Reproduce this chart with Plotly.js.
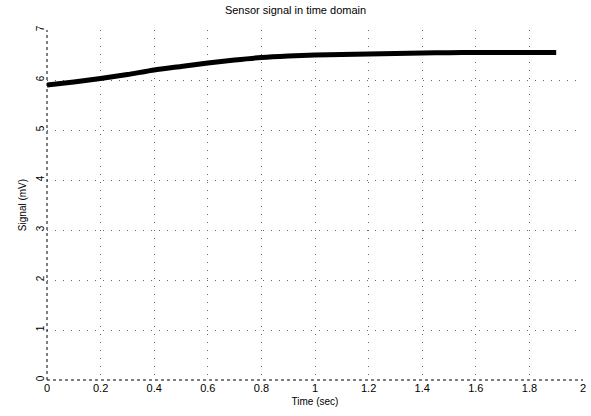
<!DOCTYPE html>
<html>
<head>
<meta charset="utf-8">
<script src="https://cdn.plot.ly/plotly-3.0.1.min.js"></script>
<style>html,body{margin:0;padding:0;background:#fff;}#chart{width:591px;height:416px;}</style>
</head>
<body>
<div id="chart"></div>
<script>
// Data
const timeSec = [0, 0.1, 0.2, 0.3, 0.4, 0.5, 0.6, 0.7, 0.8, 0.9, 1.0, 1.1, 1.2, 1.3, 1.4, 1.5, 1.6, 1.7, 1.8, 1.9];
const signalMv = [5.90, 5.96, 6.03, 6.11, 6.20, 6.27, 6.34, 6.40, 6.45, 6.48, 6.50, 6.51, 6.52, 6.53, 6.54, 6.545, 6.55, 6.55, 6.55, 6.55];
const xTicks = [0, 0.2, 0.4, 0.6, 0.8, 1, 1.2, 1.4, 1.6, 1.8, 2];
const yTicks = [0, 1, 2, 3, 4, 5, 6, 7];

const fontFam = 'Liberation Sans, Arial, sans-serif';
Plotly.newPlot('chart', [{
  x: timeSec, y: signalMv, type: 'scatter', mode: 'lines',
  line: {color: '#000', width: 5, shape: 'spline', smoothing: 0.6}, showlegend: false, hoverinfo: 'skip'
}], {
  width: 591, height: 416,
  margin: {l: 47, r: 8, t: 30, b: 36},
  paper_bgcolor: '#fff', plot_bgcolor: '#fff',
  font: {family: fontFam, size: 10, color: '#000'},
  title: {text: 'Sensor signal in time domain', x: 0.5, xanchor: 'center', y: 0.985, yanchor: 'top', font: {size: 11, family: fontFam, color: '#000'}},
  xaxis: {
    range: [0, 2], tickvals: xTicks, ticktext: xTicks.map(String),
    showgrid: true, gridcolor: '#666', griddash: '1px,7px', gridwidth: 1,
    zeroline: false, showline: false, ticks: '', ticklen: 0,
    tickfont: {size: 11, family: fontFam},
    title: {text: 'Time (sec)', font: {size: 10, family: fontFam}, standoff: 4}
  },
  yaxis: {
    range: [0, 7], tickvals: yTicks, ticktext: yTicks.map(String), tickangle: -90,
    showgrid: true, gridcolor: '#666', griddash: '1px,7px', gridwidth: 1,
    zeroline: false, showline: false, ticks: '', ticklen: 0,
    tickfont: {size: 10, family: fontFam},
    title: {text: 'Signal (mV)', font: {size: 10, family: fontFam}, standoff: 6}
  },
  shapes: [
    {type: 'line', xref: 'paper', yref: 'paper', x0: 0, x1: 0, y0: 0, y1: 1, line: {color: '#000', width: 1, dash: 'dot'}},
    {type: 'line', xref: 'paper', yref: 'paper', x0: 0, x1: 1, y0: 0, y1: 0, line: {color: '#000', width: 1, dash: 'dot'}}
  ]
}, {displayModeBar: false, staticPlot: true});
</script>
</body>
</html>
